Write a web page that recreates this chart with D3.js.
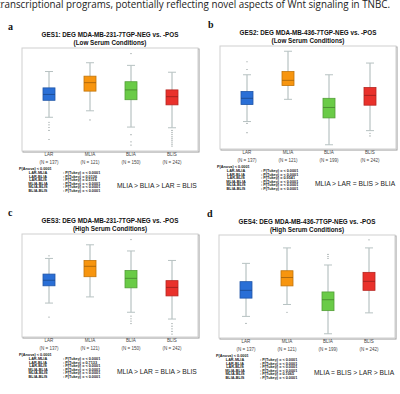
<!DOCTYPE html>
<html>
<head>
<meta charset="utf-8">
<script src="https://cdn.jsdelivr.net/npm/d3@7"></script>
<style>
  body { margin: 0; background: #fff; }
  svg { display: block; }
</style>
</head>
<body>
<script>
// categories shared by all four panels
var groups = ["LAR", "MLIA", "BLIA", "BLIS"];
var groupColors = ["#2a6fd6", "#f7950f", "#6acb47", "#e9312b"];
var pairs = ["LAR-MLIA", "LAR-BLIA", "LAR-BLIS", "MLIA-BLIA", "MLIA-BLIS", "BLIA-BLIS"];

var panelLetters = ["a", "b", "c", "d"];
var titles = [
    "GES1: DEG MDA-MB-231-7TGP-NEG vs. -POS",
    "GES2: DEG MDA-MB-436-7TGP-NEG vs. -POS",
    "GES3: DEG MDA-MB-231-7TGP-NEG vs. -POS",
    "GES4: DEG MDA-MB-436-7TGP-NEG vs. -POS"
];
var subtitles = [
    "(Low Serum Conditions)", "(Low Serum Conditions)",
    "(High Serum Conditions)", "(High Serum Conditions)"
];
var groupN = [
    ["137", "121", "150", "242"],
    ["137", "121", "199", "242"],
    ["137", "121", "150", "242"],
    ["137", "121", "199", "242"]
];
var tukeyP = [
    ["< 0.0001", "0.0136", "0.5116", "< 0.0001", "< 0.0001", "< 0.0001"],
    ["< 0.0001", "< 0.0001", "0.9541", "< 0.0001", "< 0.0001", "< 0.0001"],
    ["< 0.0001", "0.7133", "< 0.0001", "< 0.0001", "< 0.0001", "< 0.0001"],
    ["< 0.0001", "< 0.0001", "< 0.0001", "< 0.0001", "0.1065", "< 0.0001"]
];
var summaries = [
    "MLIA > BLIA > LAR = BLIS",
    "MLIA > LAR = BLIS > BLIA",
    "MLIA > LAR = BLIA > BLIS",
    "MLIA = BLIS > LAR > BLIA"
];

// box stats per panel, per group: [upper whisker, q3, median, q1, lower whisker]
var boxStats = [
    [[77.7, 61.5, 55.0, 49.2, 32.4], [86.4, 73.1, 66.7, 58.3, 38.8],
     [83.8, 67.6, 59.5, 49.8, 22.7], [77.0, 59.5, 52.8, 44.7, 22.0]],
    [[72.5, 56.0, 49.2, 43.0, 26.2], [95.8, 75.7, 67.0, 61.8, 48.2],
     [72.5, 49.2, 40.1, 29.8, 3.2], [84.1, 59.9, 52.1, 42.4, 17.2]],
    [[76.8, 61.3, 55.2, 49.7, 32.6], [90.3, 74.8, 69.0, 58.7, 38.7],
     [84.2, 64.8, 57.1, 47.7, 23.5], [74.8, 54.8, 48.1, 39.7, 16.8]],
    [[72.9, 54.8, 46.2, 38.5, 20.4], [88.2, 65.6, 58.9, 50.6, 32.2],
     [71.3, 44.6, 36.9, 26.1, 3.2], [88.2, 64.0, 55.1, 46.2, 23.9]]
];
// outlier points per panel, per group
var outliers = [
    [[27.5, 24.9, 22.3, 19.4, 10.4], [29.8], [95.5, 15.2, 8.1, 4.9],
     [19.4, 17.5, 15.5, 13.6, 11.7, 9.7, 7.8, 5.8, 3.9]],
    [[85.4, 77.7, 24.3, 15.2], [], [], [14.6, 12.0]],
    [[79.4, 18.7], [], [95.5, 19.7, 17.1, 14.8, 12.3], [12.3, 9.7, 7.1, 4.5, 1.9]],
    [[13.4], [24.5], [81.8, 79.6, 77.7], [96.2]]
];

var W = 400, H = 394;
var svg = d3.select("body").append("svg")
    .attr("width", W)
    .attr("height", H);

// caption line, cut at the top of the page as in the source figure
svg.append("text")
    .attr("x", -3)
    .attr("y", 7.5)
    .attr("font-family", "Open Sans")
    .attr("font-size", 10.5)
    .attr("fill", "#222")
    .attr("textLength", 393)
    .attr("lengthAdjust", "spacingAndGlyphs")
    .text("transcriptional programs, potentially reflecting novel aspects of Wnt signaling in TNBC.");

var panelOffsets = [[0, 0], [198, -2], [0, 186], [197, 187]];

panelLetters.forEach(function(letter, p) {
    var g = svg.append("g")
        .attr("transform", "translate(" + panelOffsets[p][0] + "," + panelOffsets[p][1] + ")");

    var left = 22, right = 198, top = 48, bottom = 151;

    g.append("text")
        .attr("x", p % 2 == 0 ? 8 : 10)
        .attr("y", 30)
        .attr("font-family", "Liberation Serif")
        .attr("font-weight", "bold")
        .attr("font-size", 10)
        .attr("fill", "#111")
        .text(letter);

    var cx = (left + right) / 2;
    g.append("text")
        .attr("x", cx).attr("y", 37)
        .attr("text-anchor", "middle")
        .attr("font-family", "Liberation Sans")
        .attr("font-weight", "bold")
        .attr("font-size", 6.3)
        .attr("fill", "#111")
        .text(titles[p]);
    g.append("text")
        .attr("x", cx).attr("y", 45)
        .attr("text-anchor", "middle")
        .attr("font-family", "Liberation Sans")
        .attr("font-weight", "bold")
        .attr("font-size", 6.3)
        .attr("fill", "#111")
        .text(subtitles[p]);

    // frame with a soft shadow
    g.append("rect")
        .attr("x", left + 1).attr("y", top + 1)
        .attr("width", right - left).attr("height", bottom - top)
        .attr("fill", "none").attr("stroke", "#9a9a9a").attr("stroke-width", 1);
    g.append("rect")
        .attr("x", left).attr("y", top)
        .attr("width", right - left).attr("height", bottom - top)
        .attr("fill", "#fff").attr("stroke", "#cfcfcf").attr("stroke-width", 1);

    var x = d3.scalePoint().domain(groups).range([left + 27, right - 26]);
    var y = d3.scaleLinear().domain([0, 100]).range([bottom - 1, top + 1]);
    var boxW = 12, capW = 8;

    groups.forEach(function(name, i) {
        var s = boxStats[p][i];
        var xc = x(name);
        var col = groupColors[i];
        // whisker
        g.append("line")
            .attr("x1", xc).attr("x2", xc)
            .attr("y1", y(s[0])).attr("y2", y(s[4]))
            .attr("stroke", "#a9b6b6").attr("stroke-width", 1);
        [s[0], s[4]].forEach(function(v) {
            g.append("line")
                .attr("x1", xc - capW / 2).attr("x2", xc + capW / 2)
                .attr("y1", y(v)).attr("y2", y(v))
                .attr("stroke", "#b7c2c2").attr("stroke-width", 1);
        });
        // box
        g.append("rect")
            .attr("x", xc - boxW / 2).attr("y", y(s[1]))
            .attr("width", boxW).attr("height", y(s[3]) - y(s[1]))
            .attr("fill", col)
            .attr("stroke", d3.color(col).darker(0.7))
            .attr("stroke-width", 0.8);
        g.append("line")
            .attr("x1", xc - boxW / 2).attr("x2", xc + boxW / 2)
            .attr("y1", y(s[2])).attr("y2", y(s[2]))
            .attr("stroke", d3.color(col).darker(1.2)).attr("stroke-width", 0.8);
        // outliers
        g.selectAll(null)
            .data(outliers[p][i])
            .enter()
            .append("circle")
            .attr("cx", xc)
            .attr("cy", function(d) { return y(d); })
            .attr("r", 0.6)
            .attr("fill", "#7f8c8c");
        // category labels
        g.append("text")
            .attr("x", xc).attr("y", bottom + 5)
            .attr("text-anchor", "middle")
            .attr("font-family", "Liberation Sans")
            .attr("font-size", 4.5)
            .attr("fill", "#444")
            .text(name);
        g.append("text")
            .attr("x", xc).attr("y", bottom + 13)
            .attr("text-anchor", "middle")
            .attr("font-family", "Liberation Sans")
            .attr("font-size", 4.5)
            .attr("fill", "#444")
            .text("(N = " + groupN[p][i] + ")");
    });

    // statistics block
    var st = g.append("g")
        .attr("font-family", "Liberation Sans")
        .attr("font-weight", "bold")
        .attr("font-size", 3.8)
        .attr("fill", "#222");
    st.append("text").attr("x", 19).attr("y", 170).text("P(Anova) < 0.0001");
    pairs.forEach(function(pr, k) {
        var yy = 174 + k * 3.55;
        st.append("text").attr("x", 38).attr("y", yy)
            .attr("text-anchor", "middle").text(pr);
        st.append("text").attr("x", 63).attr("y", yy)
            .text(": P(Tukey) = " + tukeyP[p][k]);
    });

    g.append("text")
        .attr("x", 117).attr("y", 188)
        .attr("font-family", "Liberation Sans")
        .attr("font-size", 6.7)
        .attr("fill", "#222")
        .text(summaries[p]);
});
</script>
</body>
</html>
